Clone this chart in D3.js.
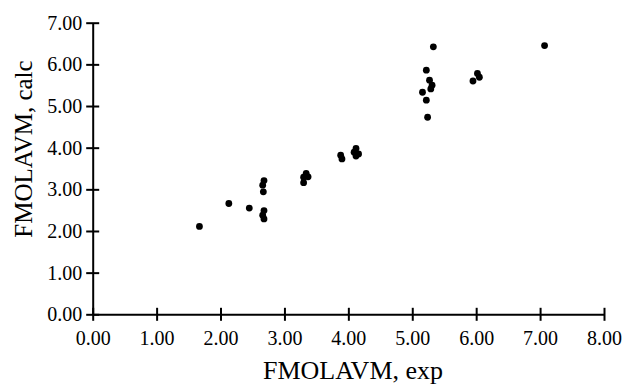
<!DOCTYPE html>
<meta charset="utf-8">
<head>
  <title>FMOLAVM scatter</title>
  <script src="https://d3js.org/d3.v7.min.js"></script>
  <style>
    body { margin: 0; background: #fff; }
    text { font-family: "Liberation Serif", "DejaVu Serif", serif; fill: #000; }
  </style>
</head>
<body>
<div id="chart"></div>
<script>
var expVals  = [1.67, 2.13, 2.45, 2.68, 2.66, 2.67, 2.68, 2.66, 2.68,
                3.34, 3.30, 3.37, 3.30, 3.88, 3.90, 4.12, 4.09, 4.16, 4.12,
                5.33, 5.22, 5.27, 5.31, 5.29, 5.16, 5.22, 5.24,
                6.02, 6.05, 5.95, 7.07];
var calcVals = [2.11, 2.66, 2.55, 3.21, 3.10, 2.94, 2.49, 2.38, 2.29,
                3.38, 3.29, 3.30, 3.16, 3.82, 3.73, 3.98, 3.89, 3.85, 3.80,
                6.42, 5.86, 5.62, 5.50, 5.41, 5.33, 5.14, 4.73,
                5.78, 5.69, 5.60, 6.45];
var xTicks = [0, 1, 2, 3, 4, 5, 6, 7, 8];
var yTicks = [0, 1, 2, 3, 4, 5, 6, 7];

var W = 626, H = 386;
var margin = {top: 22.7, right: 22, bottom: 71.7, left: 92.7};

var svg = d3.select("#chart").append("svg")
    .attr("width", W).attr("height", H);

var x = d3.scaleLinear().domain([0, 8]).range([margin.left, W - margin.right]);
var y = d3.scaleLinear().domain([0, 7]).range([H - margin.bottom, margin.top]);

// x axis, ticks cross the line
var gx = svg.append("g")
    .attr("transform", "translate(0," + y(0) + ")")
    .call(d3.axisBottom(x).tickValues(xTicks).tickFormat(d3.format(".2f"))
      .tickSizeInner(6.5).tickSizeOuter(0).tickPadding(10));
gx.selectAll(".tick line").attr("y1", -6.5);

// y axis
var gy = svg.append("g")
    .attr("transform", "translate(" + x(0) + ",0)")
    .call(d3.axisLeft(y).tickValues(yTicks).tickFormat(d3.format(".2f"))
      .tickSizeInner(6.5).tickSizeOuter(0).tickPadding(4));
gy.selectAll(".tick line").attr("x1", 6.5);

svg.selectAll(".domain, .tick line").attr("stroke", "#000").attr("stroke-width", 2);
svg.selectAll(".tick text").style("font-size", "20px").attr("fill", "#000");

// points
svg.append("g")
  .selectAll("circle")
  .data(expVals.map(function(d, i) { return {e: d, c: calcVals[i]}; }))
  .enter()
  .append("circle")
    .attr("cx", function(d) { return x(d.e); })
    .attr("cy", function(d) { return y(d.c); })
    .attr("r", 3.4)
    .attr("fill", "#000");

// axis titles
svg.append("text")
    .attr("x", 353).attr("y", 379)
    .attr("text-anchor", "middle")
    .style("font-size", "26px")
    .text("FMOLAVM, exp");

svg.append("text")
    .attr("transform", "translate(32,149) rotate(-90)")
    .attr("text-anchor", "middle")
    .style("font-size", "25px")
    .text("FMOLAVM, calc");
</script>
</body>
